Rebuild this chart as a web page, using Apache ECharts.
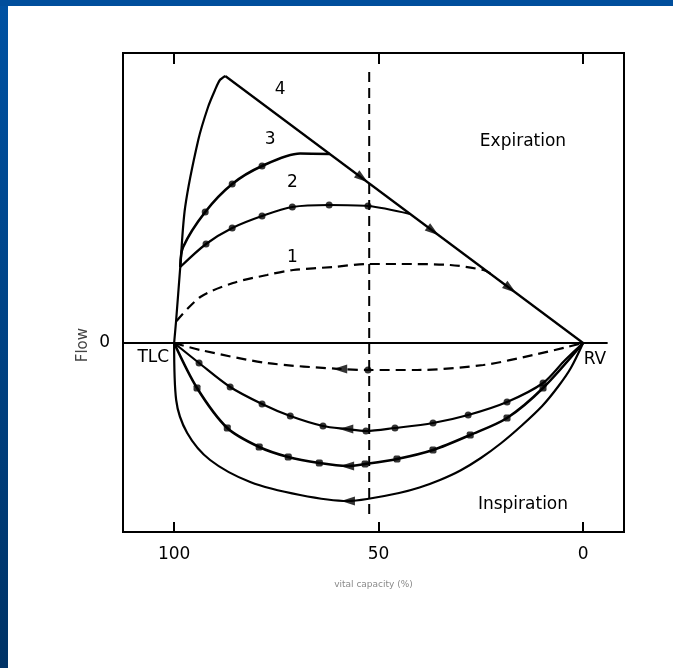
<!DOCTYPE html>
<html>
<head>
<meta charset="utf-8">
<script src="https://cdn.jsdelivr.net/npm/echarts@6/dist/echarts.min.js"></script>
<style>
  html, body { margin: 0; padding: 0; background: #ffffff; }
  #chart { width: 673px; height: 668px; }
</style>
</head>
<body>
<div id="chart"></div>
<script>
// Flow-volume loops: vital capacity (%) runs from TLC (100) to RV (0)
const xTicks = [100, 50, 0];
const yTicks = [0];

// Maximal effort (4): rapid rise to peak flow, then the effort-independent limb
const loop4Rise = [[100, 0], [99.5, 0.46], [98.5, 1.52], [97.3, 2.72], [94.1, 4.06],
                   [91.7, 4.72], [90.0, 5.06], [88.8, 5.26], [87.5, 5.34]];
const loop4Limb = [[87.5, 5.34], [0, 0]];
const loop4Inspire = [[100, 0], [99.5, -1.14], [96.8, -1.80], [91.2, -2.34], [81.4, -2.78],
                      [69.2, -3.04], [57.5, -3.16], [52.8, -3.12], [45.0, -3.00], [40.0, -2.89],
                      [35.0, -2.74], [30.0, -2.55], [25.0, -2.30], [20.0, -2.00], [15.0, -1.65],
                      [10.0, -1.26], [6.0, -0.86], [3.0, -0.50], [0, 0]];

// Effort 3
const loop3Expire = [[98.5, 1.52], [97.8, 1.92], [92.4, 2.62], [85.8, 3.18], [78.5, 3.54],
                     [69.2, 3.79], [61.9, 3.78]];
const loop3ExpireDots = [2, 3, 4];
const loop3Inspire = [[100, 0], [94.4, -0.90], [87.0, -1.70], [79.2, -2.08], [72.1, -2.28],
                      [64.5, -2.40], [57.7, -2.46], [53.3, -2.42], [45.5, -2.32], [36.7, -2.14],
                      [27.6, -1.84], [18.6, -1.50], [9.8, -0.90], [0, 0]];
const loop3InspireDots = [1, 2, 3, 4, 5, 7, 8, 9, 10, 11, 12];

// Effort 2
const loop2Expire = [[98.5, 1.52], [92.2, 1.98], [85.8, 2.30], [78.5, 2.54], [71.1, 2.72],
                     [62.1, 2.76], [52.6, 2.74], [42.3, 2.58]];
const loop2ExpireDots = [1, 2, 3, 4, 5, 6];
const loop2Inspire = [[100, 0], [93.9, -0.40], [86.3, -0.88], [78.5, -1.22], [71.6, -1.46],
                      [63.6, -1.66], [57.9, -1.72], [53.1, -1.76], [46.0, -1.70], [36.7, -1.60],
                      [28.1, -1.44], [18.6, -1.18], [9.8, -0.80], [4.4, -0.34], [0, 0]];
const loop2InspireDots = [1, 2, 3, 4, 5, 7, 8, 9, 10, 11, 12];

// Effort 1 (dashed)
const loop1Expire = [[99.4, 0.44], [93.6, 0.92], [85.6, 1.20], [77.3, 1.36], [70.9, 1.46],
                     [61.1, 1.52], [52.8, 1.58], [44.7, 1.58], [32.5, 1.56], [24.4, 1.46], [22.7, 1.39]];
const loop1Inspire = [[100, 0], [93.6, -0.14], [77.3, -0.40], [59.4, -0.52], [52.6, -0.54],
                      [40.6, -0.54], [24.4, -0.44], [12.2, -0.24], [3.9, -0.08], [0, 0]];
const loop1InspireDots = [4];

// Reference lines
const zeroFlow = [[112.5, 0], [-6, 0]];
const midVolume = [[52.3, 5.42], [52.3, -3.44]];

// Direction arrows along the loops
const arrowsDown = [[54.0, 3.30], [36.7, 2.24], [17.8, 1.09]];
const arrowsLeft = [[59.4, -0.52], [57.9, -1.72], [57.7, -2.46], [57.5, -3.16]];

// Annotations
const notes = [
  { text: '4', at: [74.1, 5.06] },
  { text: '3', at: [76.5, 4.06] },
  { text: '2', at: [71.1, 3.20] },
  { text: '1', at: [71.1, 1.70] },
  { text: 'TLC', at: [105.1, -0.30] },
  { text: 'RV', at: [-2.9, -0.34] },
  { text: 'Expiration', at: [14.7, 4.02] },
  { text: 'Inspiration', at: [14.7, -3.24] }
];

const FONT = 'DejaVu Sans';
const INK = '#000000';

function curve(data, opts) {
  return Object.assign({
    type: 'line',
    data: data,
    symbol: 'none',
    smooth: 0.3,
    silent: true,
    animation: false,
    lineStyle: { color: INK, width: 2.2 },
    z: 3
  }, opts || {});
}

function pick(data, idx) { return idx.map(i => data[i]); }

const dotData = []
  .concat(pick(loop3Expire, loop3ExpireDots))
  .concat(pick(loop2Expire, loop2ExpireDots))
  .concat(pick(loop2Inspire, loop2InspireDots))
  .concat(pick(loop1Inspire, loop1InspireDots));
const squareData = pick(loop3Inspire, loop3InspireDots);

const arrowData = arrowsDown.map(p => ({ value: p, symbolRotate: -127 }))
  .concat(arrowsLeft.map(p => ({ value: p, symbolRotate: 90 })));

const frameGraphics = [
  {
    type: 'rect', left: 0, top: 0, z: 100,
    shape: { width: 8, height: 668 },
    style: {
      fill: new echarts.graphic.LinearGradient(0, 0, 0, 1, [
        { offset: 0, color: '#0052a3' },
        { offset: 1, color: '#003366' }
      ])
    }
  },
  {
    type: 'rect', left: 0, top: 0, z: 100,
    shape: { width: 673, height: 6 },
    style: { fill: '#004e9c' }
  },
  {
    type: 'text', left: 76, top: 328, rotation: Math.PI / 2, z: 10,
    style: { text: 'Flow', fontSize: 15, fontFamily: FONT, fill: '#444444' }
  }
];

const chart = echarts.init(document.getElementById('chart'), null, { renderer: 'canvas' });

chart.setOption({
  backgroundColor: '#ffffff',
  animation: false,
  textStyle: { fontFamily: FONT },
  graphic: frameGraphics,
  grid: {
    left: 123, top: 53, width: 501, height: 479,
    show: true, borderColor: INK, borderWidth: 2, backgroundColor: 'transparent'
  },
  xAxis: [
    {
      type: 'value', min: -10, max: 112.5, inverse: true, position: 'bottom',
      name: 'vital capacity (%)', nameLocation: 'middle', nameGap: 48,
      nameTextStyle: { fontSize: 9, color: '#8a8a8a', fontFamily: FONT },
      axisLine: { show: false, onZero: false },
      splitLine: { show: false },
      axisTick: { show: true, inside: true, length: 10, customValues: xTicks,
                  lineStyle: { color: INK, width: 2 } },
      axisLabel: {
        customValues: xTicks, margin: 14, fontSize: 17, fontFamily: FONT,
        color: v => (v === 100 ? '#c4c4c4' : INK)
      }
    },
    {
      type: 'value', min: -10, max: 112.5, inverse: true, position: 'top',
      axisLine: { show: false, onZero: false },
      splitLine: { show: false },
      axisTick: { show: true, inside: true, length: 11, customValues: xTicks,
                  lineStyle: { color: INK, width: 2 } },
      axisLabel: { show: false }
    }
  ],
  yAxis: {
    type: 'value', min: -3.78, max: 5.8,
    axisLine: { show: false, onZero: false },
    axisTick: { show: false },
    splitLine: { show: false },
    axisLabel: { customValues: yTicks, margin: 13, fontSize: 17, fontFamily: FONT, color: INK }
  },
  series: [
    curve(zeroFlow, { smooth: false }),
    curve(midVolume, { smooth: false, lineStyle: { color: INK, width: 2, type: [10, 6] } }),
    curve(loop4Rise, { smooth: 0.3 }),
    curve(loop4Limb, { smooth: false }),
    curve(loop4Inspire, { smooth: 0.3 }),
    curve(loop3Expire, { lineStyle: { color: INK, width: 2.6 } }),
    curve(loop3Inspire, { lineStyle: { color: INK, width: 2.6 } }),
    curve(loop2Expire),
    curve(loop2Inspire),
    curve(loop1Expire, { lineStyle: { color: INK, width: 2.2, type: [10, 6] } }),
    curve(loop1Inspire, { lineStyle: { color: INK, width: 2.2, type: [10, 6] } }),
    {
      type: 'scatter', data: dotData, symbol: 'circle', symbolSize: 7,
      itemStyle: { color: INK }, silent: true, animation: false, z: 5
    },
    {
      type: 'scatter', data: squareData, symbol: 'roundRect', symbolSize: 7,
      itemStyle: { color: INK }, silent: true, animation: false, z: 5
    },
    {
      type: 'scatter', data: arrowData, symbol: 'triangle', symbolSize: [9, 14],
      itemStyle: { color: INK }, silent: true, animation: false, z: 6
    }
  ]
});

// Place the annotations at their data positions through the chart's own scales
const noteGraphics = notes.map(n => {
  const p = chart.convertToPixel({ xAxisIndex: 0, yAxisIndex: 0 }, n.at);
  return {
    type: 'text', x: p[0], y: p[1], z: 20,
    style: {
      text: n.text, fontSize: 17, fontFamily: FONT, fill: INK,
      align: 'center', verticalAlign: 'middle'
    }
  };
});
chart.setOption({ graphic: frameGraphics.concat(noteGraphics) });
</script>
</body>
</html>
